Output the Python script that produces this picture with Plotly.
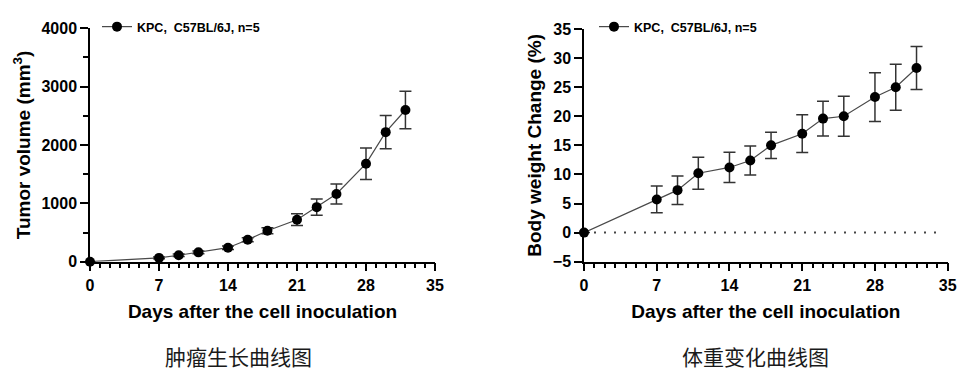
import plotly.graph_objects as go

days = [0, 7, 9, 11, 14, 16, 18, 21, 23, 25, 28, 30, 32]
tumor_volume = [0, 65, 110, 160, 240, 375, 530, 720, 935, 1160, 1680, 2220, 2600]
tumor_sem = [0, 15, 20, 25, 30, 35, 50, 100, 140, 170, 270, 285, 320]
weight_change = [0, 5.7, 7.3, 10.2, 11.2, 12.4, 15.0, 17.0, 19.6, 20.0, 23.3, 25.0, 28.3]
weight_sem = [0, 2.3, 2.45, 2.75, 2.6, 2.5, 2.25, 3.25, 3.0, 3.45, 4.2, 3.95, 3.7]
series_name = "KPC,  C57BL/6J, n=5"
x_title = "Days after the cell inoculation"
y1_title = "Tumor volume (mm<sup>3</sup>)"
y2_title = "Body weight Change (%)"
caption1 = "肿瘤生长曲线图"
caption2 = "体重变化曲线图"

W, H = 968, 379
OFF = 8  # page body margin
FONT = "Liberation Sans, Arial, sans-serif"


def px_x(p):
    return (p - OFF) / W


def px_y(p):
    return (H - (p - OFF)) / H


fig = go.Figure()
fig.add_trace(go.Scatter(
    x=days, y=tumor_volume, mode="lines+markers", name=series_name,
    line=dict(color="#4a4a4a", width=1.2),
    marker=dict(color="black", size=10),
    error_y=dict(type="data", array=tumor_sem, visible=True, color="#333333", thickness=1.5, width=6),
    cliponaxis=False, xaxis="x", yaxis="y", legend="legend",
))
fig.add_trace(go.Scatter(
    x=days, y=weight_change, mode="lines+markers", name=series_name,
    line=dict(color="#4a4a4a", width=1.2),
    marker=dict(color="black", size=10),
    error_y=dict(type="data", array=weight_sem, visible=True, color="#333333", thickness=1.5, width=6),
    cliponaxis=False, xaxis="x2", yaxis="y2", legend="legend2",
))

fig.add_shape(type="line", xref="x2", yref="y2", x0=0, x1=34.4, y0=0, y1=0,
              line=dict(color="#444444", width=2, dash="2px,8px"), layer="below")

tickfont = dict(family=FONT, size=16, color="black", weight="bold")
titlefont = dict(family=FONT, size=19, color="black", weight="bold")

X1DOM = [px_x(90), px_x(435)]
X2DOM = [px_x(584), px_x(947.7)]
Y1DOM = [px_y(261.7), px_y(28.3)]
Y2DOM = [px_y(261.7), px_y(29)]

MINOR_X = dict(tickmode="linear", tick0=0, dtick=1, ticks="outside", ticklen=5,
               tickwidth=1.5, tickcolor="black", showgrid=False)


def xax(domain, anchor):
    return dict(domain=domain, anchor=anchor, range=[0, 35], tickmode="linear", tick0=0, dtick=7,
                showgrid=False, zeroline=False, showline=True, linecolor="black", linewidth=1.5,
                ticks="outside", ticklen=8, tickwidth=1.5, tickcolor="black",
                minor=MINOR_X,
                tickfont=tickfont, title=dict(text=x_title, font=titlefont, standoff=12),
                automargin=False)


def yax(domain, anchor, rng, dtick, title, minor=None):
    d = dict(domain=domain, anchor=anchor, range=rng, tickmode="linear", tick0=0, dtick=dtick,
             showgrid=False, zeroline=False, showline=True, linecolor="black", linewidth=1.5,
             ticks="outside", ticklen=8, tickwidth=1.5, tickcolor="black",
             tickfont=tickfont, title=dict(text=title, font=titlefont, standoff=6),
             automargin=False)
    if minor:
        d["minor"] = minor
    return d


legfont = dict(family=FONT, size=12.5, color="black", weight="bold")
fig.update_layout(
    template="none",
    width=W, height=H, margin=dict(l=0, r=0, t=0, b=0),
    paper_bgcolor="white", plot_bgcolor="white",
    xaxis=xax(X1DOM, "y"),
    yaxis=yax(Y1DOM, "x", [0, 4000], 1000, y1_title,
              minor=dict(tickmode="linear", tick0=0, dtick=500, ticks="outside", ticklen=5,
                         tickwidth=1.5, tickcolor="black", showgrid=False)),
    xaxis2=xax(X2DOM, "y2"),
    yaxis2=yax(Y2DOM, "x2", [-5, 35], 5, y2_title),
    legend=dict(x=px_x(97), y=px_y(27), xanchor="left", yanchor="middle",
                bgcolor="rgba(0,0,0,0)", itemwidth=30, font=legfont),
    legend2=dict(x=px_x(594), y=px_y(27), xanchor="left", yanchor="middle",
                 bgcolor="rgba(0,0,0,0)", itemwidth=30, font=legfont),
    showlegend=True,
)

capfont = dict(family="Noto Sans CJK SC", size=21, color="#1a1a1a")
fig.add_annotation(text=caption1, xref="paper", yref="paper", x=px_x(238), y=px_y(356),
                   showarrow=False, font=capfont, xanchor="center", yanchor="middle")
fig.add_annotation(text=caption2, xref="paper", yref="paper", x=px_x(755), y=px_y(356),
                   showarrow=False, font=capfont, xanchor="center", yanchor="middle")

fig.write_html("out.html")
